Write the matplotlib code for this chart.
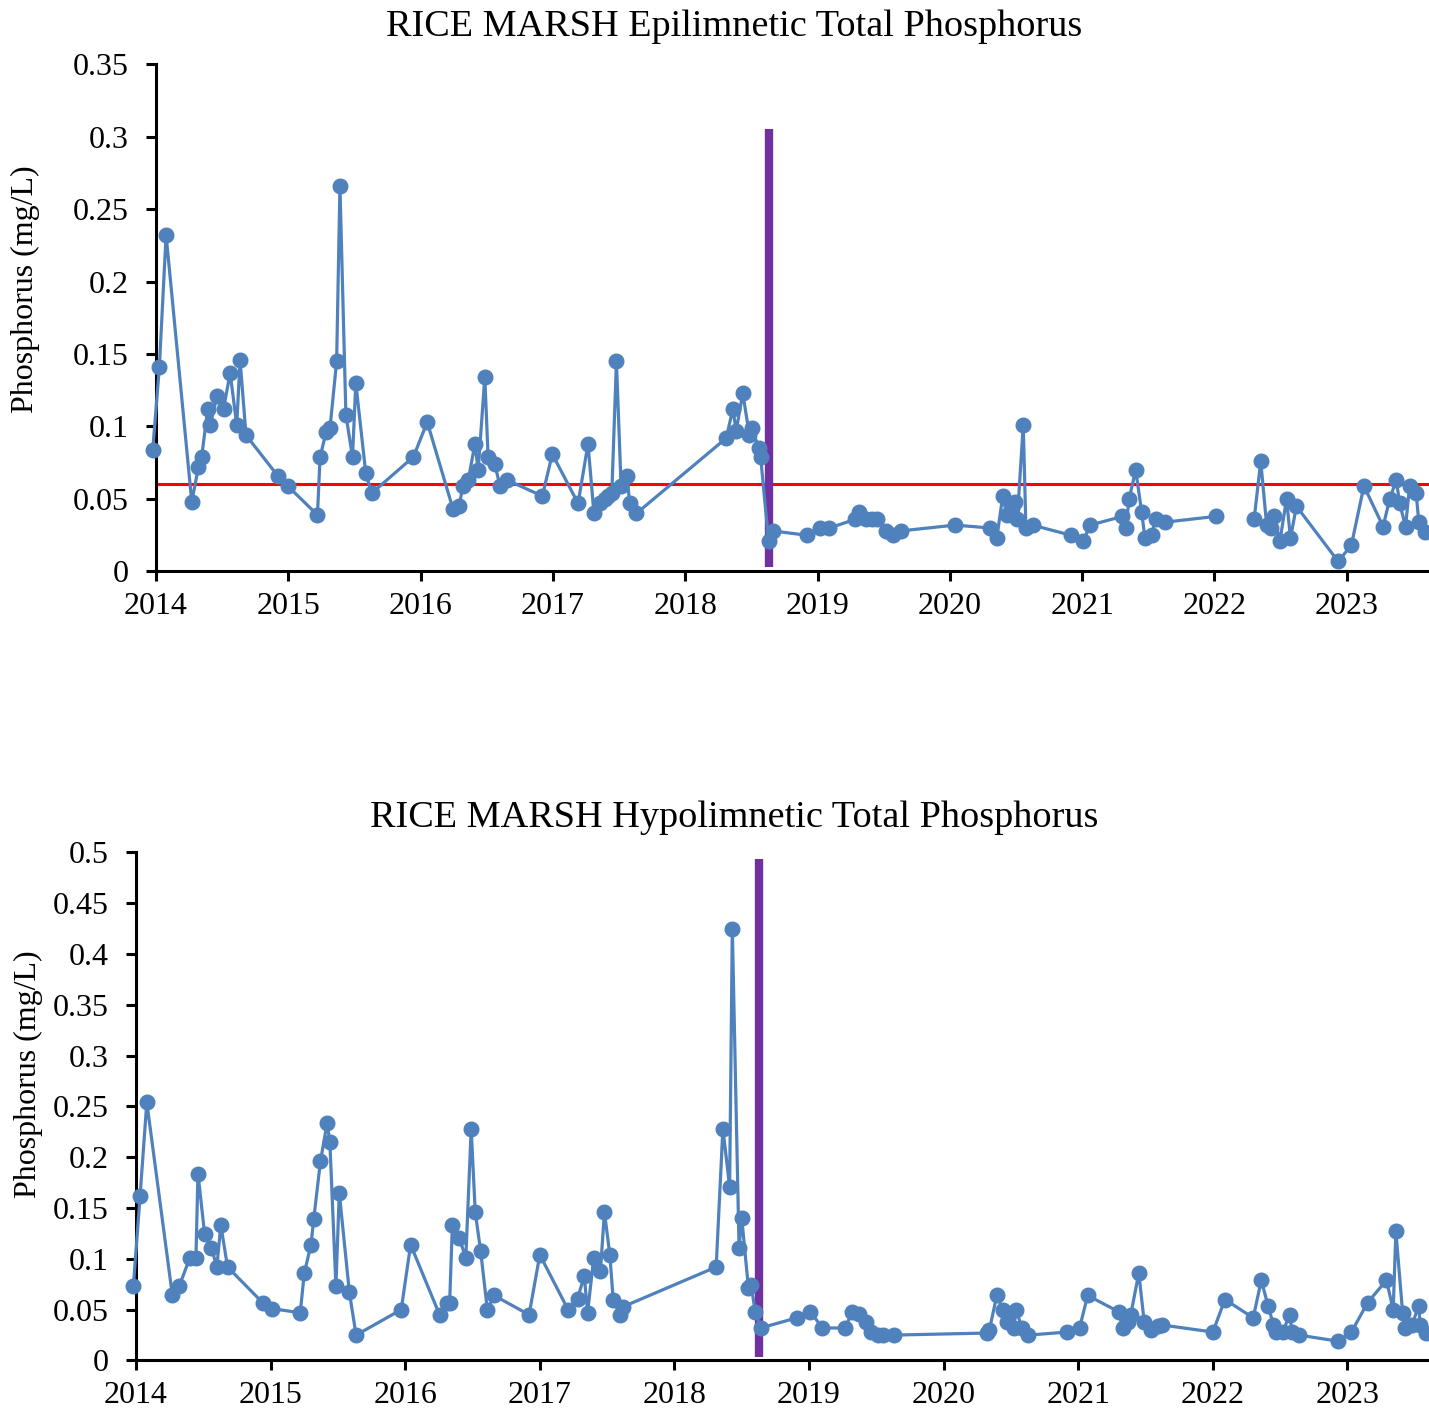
import matplotlib
matplotlib.use("Agg")
import matplotlib.pyplot as plt
import numpy as np
from matplotlib import rcParams

rcParams["font.family"] = ["Liberation Serif", "DejaVu Serif"]
DPI = 100

BLUE = "#4F81BD"
PURPLE = "#7030A0"

# ── Epilimnetic TP (sample date as decimal year, mg/L); NaN = break in the record
epi_year = [
    2013.975, 2014.025, 2014.076, 2014.27, 2014.32, 2014.345, 2014.39, 2014.41, 2014.46, 2014.51,
    2014.56, 2014.61, 2014.635, 2014.68, 2014.92, 2014.995, 2015.22, 2015.24, 2015.285, 2015.315,
    2015.365, 2015.39, 2015.435, 2015.485, 2015.51, 2015.585, 2015.63, 2015.945, 2016.05, 2016.245,
    2016.29, 2016.32, 2016.36, 2016.41, 2016.435, 2016.485, 2016.51, 2016.56, 2016.60, 2016.655,
    2016.92, 2016.995, 2017.19, 2017.265, 2017.31, 2017.355, 2017.39, 2017.42, 2017.445, 2017.48,
    2017.515, 2017.56, 2017.58, 2017.63, 2018.31, 2018.36, 2018.385, 2018.435, 2018.485, 2018.505,
    2018.555, 2018.57, 2018.63, 2018.66, 2018.92, 2019.015, 2019.09, 2019.285, 2019.31, 2019.37,
    2019.41, 2019.45, 2019.52, 2019.57, 2019.63, 2020.04, 2020.305, 2020.355, 2020.40, 2020.43,
    2020.47, 2020.49, 2020.51, 2020.555, 2020.575, 2020.625, 2020.915, 2021.01, 2021.06, 2021.305,
    2021.33, 2021.355, 2021.405, 2021.45, 2021.475, 2021.525, 2021.555, 2021.625, 2022.01, 2022.15,
    2022.30, 2022.35, 2022.395, 2022.425, 2022.45, 2022.495, 2022.545, 2022.575, 2022.62, 2022.935,
    2023.035, 2023.13, 2023.275, 2023.325, 2023.375, 2023.40, 2023.445, 2023.475, 2023.525, 2023.545,
    2023.59,
]
epi_tp = [
    0.084, 0.141, 0.232, 0.048, 0.072, 0.079, 0.112, 0.101, 0.121, 0.112,
    0.137, 0.101, 0.146, 0.094, 0.066, 0.059, 0.039, 0.079, 0.096, 0.099,
    0.145, 0.266, 0.108, 0.079, 0.130, 0.068, 0.054, 0.079, 0.103, 0.043,
    0.045, 0.059, 0.063, 0.088, 0.070, 0.134, 0.079, 0.074, 0.059, 0.063,
    0.052, 0.081, 0.047, 0.088, 0.040, 0.047, 0.050, 0.052, 0.054, 0.145,
    0.059, 0.066, 0.047, 0.040, 0.092, 0.112, 0.097, 0.123, 0.094, 0.099,
    0.085, 0.079, 0.021, 0.028, 0.025, 0.030, 0.030, 0.036, 0.041, 0.036,
    0.036, 0.036, 0.028, 0.025, 0.028, 0.032, 0.030, 0.023, 0.052, 0.039,
    0.044, 0.048, 0.036, 0.101, 0.030, 0.032, 0.025, 0.021, 0.032, 0.038,
    0.030, 0.050, 0.070, 0.041, 0.023, 0.025, 0.036, 0.034, 0.038, np.nan,
    0.036, 0.076, 0.032, 0.030, 0.038, 0.021, 0.050, 0.023, 0.045, 0.007,
    0.018, 0.059, 0.031, 0.050, 0.063, 0.047, 0.031, 0.059, 0.054, 0.034,
    0.027,
]

# ── Hypolimnetic TP
hypo_year = [
    2013.98, 2014.03, 2014.08, 2014.27, 2014.32, 2014.40, 2014.445, 2014.46, 2014.51, 2014.56,
    2014.60, 2014.63, 2014.68, 2014.94, 2015.01, 2015.22, 2015.25, 2015.30, 2015.32, 2015.37,
    2015.42, 2015.44, 2015.485, 2015.51, 2015.585, 2015.635, 2015.97, 2016.04, 2016.255, 2016.31,
    2016.33, 2016.35, 2016.40, 2016.45, 2016.49, 2016.52, 2016.56, 2016.61, 2016.66, 2016.92,
    2017.00, 2017.21, 2017.28, 2017.33, 2017.355, 2017.40, 2017.45, 2017.48, 2017.52, 2017.545,
    2017.595, 2017.62, 2018.31, 2018.36, 2018.41, 2018.43, 2018.48, 2018.50, 2018.55, 2018.57,
    2018.60, 2018.64, 2018.91, 2019.01, 2019.10, 2019.27, 2019.32, 2019.37, 2019.42, 2019.46,
    2019.51, 2019.55, 2019.63, 2020.32, 2020.34, 2020.395, 2020.44, 2020.47, 2020.52, 2020.54,
    2020.58, 2020.63, 2020.92, 2021.01, 2021.07, 2021.30, 2021.33, 2021.37, 2021.39, 2021.45,
    2021.49, 2021.54, 2021.59, 2021.62, 2022.00, 2022.09, 2022.30, 2022.36, 2022.41, 2022.45,
    2022.47, 2022.52, 2022.57, 2022.59, 2022.64, 2022.93, 2023.03, 2023.15, 2023.29, 2023.34,
    2023.36, 2023.41, 2023.43, 2023.48, 2023.53, 2023.54, 2023.58,
]
hypo_tp = [
    0.073, 0.162, 0.254, 0.064, 0.073, 0.101, 0.101, 0.184, 0.124, 0.111,
    0.092, 0.133, 0.092, 0.057, 0.051, 0.047, 0.086, 0.114, 0.139, 0.196,
    0.234, 0.215, 0.073, 0.165, 0.067, 0.025, 0.050, 0.114, 0.045, 0.057,
    0.057, 0.133, 0.121, 0.101, 0.228, 0.146, 0.108, 0.050, 0.064, 0.045,
    0.104, 0.050, 0.061, 0.083, 0.047, 0.101, 0.088, 0.146, 0.104, 0.060,
    0.045, 0.053, 0.092, 0.228, 0.171, 0.425, 0.111, 0.140, 0.071, 0.074,
    0.048, 0.032, 0.042, 0.048, 0.032, 0.032, 0.048, 0.046, 0.038, 0.028,
    0.025, 0.025, 0.025, 0.027, 0.030, 0.064, 0.050, 0.038, 0.032, 0.050,
    0.032, 0.025, 0.028, 0.032, 0.064, 0.048, 0.032, 0.038, 0.045, 0.086,
    0.038, 0.030, 0.034, 0.035, 0.028, 0.060, 0.042, 0.079, 0.054, 0.035,
    0.028, 0.028, 0.045, 0.028, 0.025, 0.019, 0.028, 0.057, 0.079, 0.050,
    0.127, 0.047, 0.032, 0.035, 0.054, 0.035, 0.027,
]

criterion = 0.06          # epilimnetic TP criterion (mg/L)
alum_year = 2018.63       # treatment date marker
epi_marker_top = 0.305
hypo_marker_top = 0.494

year_ticks = list(range(2014, 2024))


def panel(rect, years, tp, ylim, ystep, xmax, marker_top, ref=None):
    ax = fig.add_axes(rect)
    if ref is not None:
        ax.axhline(ref, color="#FF0000", lw=2.2, zorder=1)
    ax.plot([alum_year, alum_year], [0.003, marker_top], color=PURPLE, lw=6, zorder=2,
            solid_capstyle="butt")
    ax.plot(years, tp, "-o", color=BLUE, lw=2.3, ms=10.5, zorder=3, clip_on=False)

    ax.set_xlim(2014, xmax)
    ax.set_ylim(0, ylim)
    ax.set_xticks(year_ticks)
    ax.set_xticklabels([str(y) for y in year_ticks])
    yt = np.round(np.arange(0, ylim + 1e-9, ystep), 2)
    ax.set_yticks(yt)
    ax.set_yticklabels(["0" if v == 0 else f"{v:g}" for v in yt])
    ax.tick_params(labelsize=23, width=2.2, length=7, direction="out")
    ax.tick_params(axis="y", pad=13)
    ax.tick_params(axis="x", pad=8)
    for s in ("top", "right"):
        ax.spines[s].set_visible(False)
    for s in ("left", "bottom"):
        ax.spines[s].set_linewidth(2.2)
    return ax


fig = plt.figure(figsize=(14.29, 14.16), dpi=DPI, facecolor="white")

ax1 = panel([0.1092, 0.5964, 0.8908, 0.3584], epi_year, epi_tp, 0.35, 0.05, 2023.622,
            epi_marker_top, ref=criterion)
fig.text(25 / 1429, 1 - 289 / 1416, "Phosphorus (mg/L)", fontsize=23, rotation=90,
         ha="center", va="center")
fig.text(734 / 1429, 1 - 27 / 1416, "RICE MARSH Epilimnetic Total Phosphorus",
         fontsize=27.5, ha="center", va="center")

ax2 = panel([0.0952, 0.0392, 0.9048, 0.3588], hypo_year, hypo_tp, 0.5, 0.05, 2023.606,
            hypo_marker_top)
fig.text(28 / 1429, 1 - 1074 / 1416, "Phosphorus (mg/L)", fontsize=23, rotation=90,
         ha="center", va="center")
fig.text(734 / 1429, 1 - 818 / 1416, "RICE MARSH Hypolimnetic Total Phosphorus",
         fontsize=27.5, ha="center", va="center")

fig.savefig("out.png", dpi=DPI, facecolor="white")
plt.close(fig)
